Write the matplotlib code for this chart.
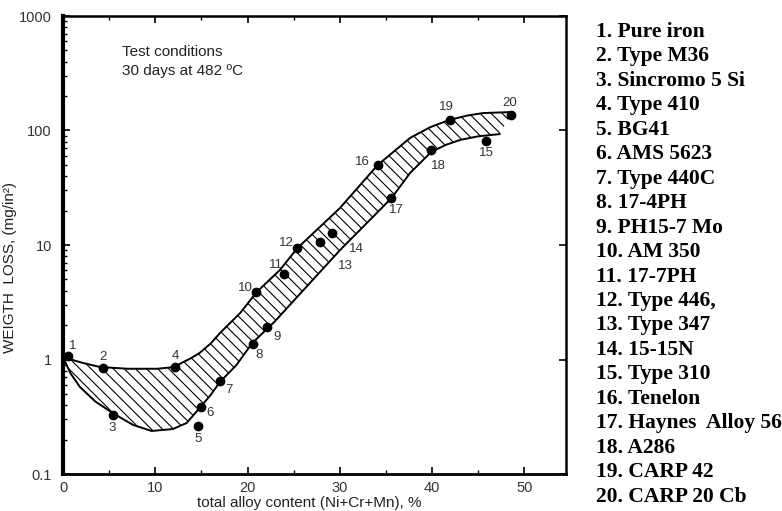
import matplotlib
matplotlib.use("Agg")
import matplotlib.pyplot as plt
from matplotlib.ticker import LogLocator, MultipleLocator, FixedLocator

# alloy numbers, total alloy content (%) and weight loss (mg/in^2)
alloy_ids = list(range(1, 21))
alloy_x = [0.5, 4.3, 5.4, 12.1, 14.6, 14.9, 17.0, 20.6, 22.1, 20.9,
           23.9, 25.4, 27.8, 29.1, 45.8, 34.1, 35.5, 39.9, 41.9, 48.5]
alloy_loss = [1.08, 0.84, 0.33, 0.86, 0.26, 0.385, 0.65, 1.37, 1.92, 3.9,
              5.6, 9.4, 10.6, 12.7, 81, 50, 25.5, 68, 124, 136]
alloy_names = ["Pure iron", "Type M36", "Sincromo 5 Si", "Type 410", "BG41",
               "AMS 5623", "Type 440C", "17-4PH", "PH15-7 Mo", "AM 350",
               "17-7PH", "Type 446,", "Type 347", "15-15N", "Type 310",
               "Tenelon", "Haynes  Alloy 56", "A286", "CARP 42", "CARP 20 Cb"]

# upper and lower edges of the scatter band
upper_x = [0, 2.0, 4.0, 7.0, 10.2, 12.1, 12.7, 13.8, 14.8, 16.0, 17.0, 19.2,
           21.0, 23.5, 25.4, 30.0, 34.1, 37.6, 39.8, 41.9, 43.8, 45.5, 48.7]
upper_y = [1.05, 0.94, 0.86, 0.83, 0.83, 0.86, 0.92, 1.02, 1.14, 1.38, 1.70,
           2.55, 3.89, 6.05, 9.4, 21, 50, 86, 107, 124, 135, 142, 145]
lower_x = [0, 0.8, 1.84, 3.5, 5.4, 7.6, 9.6, 11.9, 13.4, 14.9, 16.0, 17.0,
           18.8, 20.5, 22.9, 30.0, 35.6, 37.6, 39.9, 41.5, 43.0, 45.0, 47.3]
lower_y = [1.05, 0.76, 0.575, 0.43, 0.34, 0.268, 0.2375, 0.247, 0.279, 0.385,
           0.49, 0.636, 0.896, 1.39, 2.13, 9.0, 25.7, 42.5, 65, 75, 82.6, 89, 93]

# label offsets in pixels (dx, dy) for each numbered point
label_offsets = [(5, 10), (0, 11), (-1, -13), (1, 11), (0, -13), (10, -6),
                 (9, -9), (6, -11), (10, -10), (-11, 4), (-8, 9), (-11, 5),
                 (26, -24), (25, -16), (1, -12), (-15, 3), (6, -12), (7, -16),
                 (-3, 13), (-1, 12)]

W, H = 782, 511
plt.rcParams["hatch.linewidth"] = 0.8
fig = plt.figure(figsize=(W / 100, H / 100), dpi=100)
ax = fig.add_axes([63 / W, (H - 474) / H, (566 - 63) / W, (474 - 16) / H])

sans = "Liberation Sans"
grey = "#333333"

# band
poly_x = upper_x + lower_x[::-1]
poly_y = upper_y + lower_y[::-1]
ax.fill(poly_x, poly_y, facecolor="none", edgecolor="black", linewidth=0,
        hatch="\\\\\\", zorder=1)
ax.plot(upper_x, upper_y, color="black", lw=1.4, zorder=2)
ax.plot(lower_x, lower_y, color="black", lw=1.4, zorder=2)

ax.plot(alloy_x, alloy_loss, "o", color="black", ms=6, zorder=3)
for i, n in enumerate(alloy_ids):
    ax.annotate(str(n), (alloy_x[i], alloy_loss[i]), xytext=label_offsets[i],
                textcoords="offset pixels", ha="center", va="center",
                fontsize=9.5, family=sans, color=grey)

ax.set_yscale("log")
ax.set_xlim(0, 54.5)
ax.set_ylim(0.1, 1000)

ax.xaxis.set_major_locator(FixedLocator([0, 10, 20, 30, 40, 50]))
ax.xaxis.set_minor_locator(MultipleLocator(5))
ax.yaxis.set_minor_locator(LogLocator(base=10, subs=range(2, 10)))
ax.set_yticks([0.1, 1, 10, 100, 1000])
ax.set_yticklabels(["0.1", "1", "10", "100", "1000"])

ax.tick_params(which="both", direction="in", top=True, right=True, color="black")
ax.tick_params(which="major", length=5, width=1.2, labelsize=10.5, labelcolor=grey)
ax.tick_params(axis="x", which="major", pad=5)
ax.tick_params(axis="y", which="major", pad=8)
ax.tick_params(which="minor", length=3, width=1.0)
ax.tick_params(axis="y", which="minor", right=False)
for lab in ax.get_xticklabels() + ax.get_yticklabels():
    lab.set_family(sans)

for side, lw in [("left", 3.0), ("bottom", 2.0), ("top", 1.8), ("right", 1.8)]:
    ax.spines[side].set_linewidth(lw)

ax.set_xlabel("total alloy content (Ni+Cr+Mn), %", fontsize=11, family=sans,
              color="#222222")
ax.xaxis.set_label_coords(0.49, -0.049)
ax.set_ylabel("WEIGTH  LOSS, (mg/in\u00b2)", fontsize=11, family=sans, color="#222222")
ax.yaxis.set_label_coords(-0.091, 0.45)

ax.text(6.4, 400, "Test conditions\n30 days at 482 \u00baC", fontsize=11, family=sans,
        color="#222222", va="center", linespacing=1.45)

# list of alloys on the right
for i, name in enumerate(alloy_names):
    fig.text(596 / W, 1 - (32 + 24.45 * i) / H, f"{alloy_ids[i]}. {name}",
             fontsize=15.5, family="Liberation Serif", fontweight="bold",
             va="center", ha="left")

fig.savefig("out.png", dpi=100)
